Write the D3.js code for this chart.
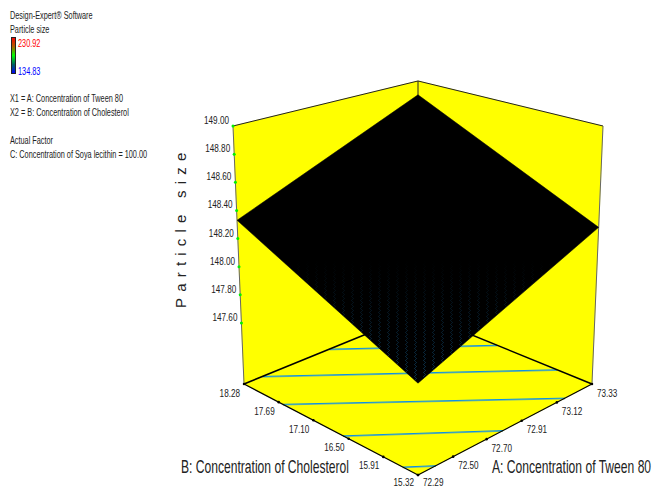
<!DOCTYPE html>
<html>
<head>
<meta charset="utf-8">
<script src="https://cdn.jsdelivr.net/npm/d3@7"></script>
<style>
  html, body { margin: 0; padding: 0; background: #fff; }
  svg { display: block; }
  text { font-family: "Liberation Sans", Arial, sans-serif; fill: #222; }
</style>
</head>
<body>
<script>
var width = 654,
    height = 487;

// axis ticks
var aTicks = [72.29, 72.50, 72.70, 72.91, 73.12, 73.33];
var bTicks = [15.32, 15.91, 16.50, 17.10, 17.69, 18.28];
var zTicks = [147.60, 147.80, 148.00, 148.20, 148.40, 148.60, 148.80, 149.00];

// surface height at the four corners of the A/B floor
var surfaceCorners = [
  { a: 72.29, b: 15.32, z: 147.75 },
  { a: 73.33, b: 15.32, z: 148.28 },
  { a: 73.33, b: 18.28, z: 148.89 },
  { a: 72.29, b: 18.28, z: 148.33 }
];

// contour ends on the floor [A, B, A, B]
var contours = [
  [72.29, 15.55, 72.385, 15.32],
  [72.29, 16.50, 72.764, 15.32],
  [72.29, 17.55, 73.15, 15.32],
  [72.39, 18.28, 73.33, 15.86],
  [72.77, 18.28, 73.33, 16.85]
];

var legendLines = [
  ["Design-Expert\u00ae Software", 19],
  ["Particle size", 33],
  ["X1 = A: Concentration of Tween 80", 102],
  ["X2 = B: Concentration of Cholesterol", 116],
  ["Actual Factor", 144],
  ["C: Concentration of Soya lecithin = 100.00", 158]
];

var colorStops = ["#ff0000", "#b06000", "#00ff00", "#006060", "#0000ff"];

var svg = d3.select('body').append('svg')
    .attr('width', width)
    .attr('height', height);

// scales give 0..1 along each axis, project() does the perspective
var aScale = d3.scaleLinear().domain([72.29, 73.33]).range([0, 1]);
var bScale = d3.scaleLinear().domain([15.32, 18.28]).range([0, 1]);
// height is spaced evenly on the wall, so go through wall pixels first
var wallY = d3.scaleLinear().domain([147.60, 149.00]).range([323, 126]);
var zMin = wallY.invert(384);

function zToT(z) {
  var y = wallY(z);
  return (438.1 - 1.141 * y) / (302.9 - 0.068 * y);
}

function project(a, b, z) {
  var u = aScale(a), v = bScale(b), t = zToT(z);
  var w = 1 + 0.141 * (u + v) - 0.068 * t;
  return [
    418 + 198.5 * (u - v) / w,
    (475 - 36.9 * (u + v) - 302.9 * t) / w
  ];
}

var line = d3.line();
var aMin = aTicks[0], aMax = aTicks[5], bMin = bTicks[0], bMax = bTicks[5];

// front edge ticks are evenly spaced in the original
var aEdge = d3.scaleLinear().domain([aMin, aMax]).range([project(aMin, bMin, zMin), project(aMax, bMin, zMin)]);
var bEdge = d3.scaleLinear().domain([bMin, bMax]).range([project(aMin, bMin, zMin), project(aMin, bMax, zMin)]);

function poly(pts, fill) {
  return svg.append('path')
    .attr('d', line(pts) + 'Z')
    .attr('fill', fill)
    .attr('stroke', fill)
    .attr('stroke-width', 0.5);
}

function edge(p, q, w, color) {
  svg.append('path')
    .attr('d', line([p, q]))
    .attr('fill', 'none')
    .attr('stroke', color)
    .attr('stroke-width', w);
}

// text is condensed in the original, so squeeze it sideways
function label(x, y, str, size, sx, anchor, color) {
  svg.append('text')
    .attr('transform', 'translate(' + x + ',' + y + ') scale(' + sx + ',1)')
    .attr('font-size', size)
    .attr('text-anchor', anchor || 'start')
    .style('fill', color || null)
    .text(str);
}

// walls and floor
var zMax = 149.00;
poly([project(aMin, bMax, zMin), project(aMin, bMax, zMax), project(aMax, bMax, zMax), project(aMax, bMax, zMin)], '#ffff00');
poly([project(aMax, bMin, zMin), project(aMax, bMin, zMax), project(aMax, bMax, zMax), project(aMax, bMax, zMin)], '#ffff00');
poly([project(aMin, bMin, zMin), project(aMax, bMin, zMin), project(aMax, bMax, zMin), project(aMin, bMax, zMin)], '#ffff00');

// contours on the floor
contours.forEach(function(c) {
  var p = project(c[0], c[1], zMin), q = project(c[2], c[3], zMin);
  edge([p[0], p[1] + 0.7], [q[0], q[1] + 0.7], 1, '#6fb59a');
  edge(p, q, 1, '#0a90e8');
});

// box edges
edge(project(aMin, bMax, zMin), project(aMax, bMax, zMin), 1.5, '#000');
edge(project(aMax, bMin, zMin), project(aMax, bMax, zMin), 1.5, '#000');
edge(project(aMin, bMin, zMin), project(aMin, bMax, zMin), 1.2, '#000');
edge(project(aMin, bMin, zMin), project(aMax, bMin, zMin), 1.2, '#000');
edge(project(aMin, bMax, zMax), project(aMax, bMax, zMax), 1, '#222');
edge(project(aMax, bMin, zMax), project(aMax, bMax, zMax), 1, '#222');
edge(project(aMin, bMax, zMin), project(aMin, bMax, zMax), 1, '#666');
edge(project(aMax, bMin, zMin), project(aMax, bMin, zMax), 1, '#666');
edge(project(aMax, bMax, zMin), project(aMax, bMax, zMax), 1, '#222');

// surface
var surfacePts = surfaceCorners.map(function(d) { return project(d.a, d.b, d.z); });
poly(surfacePts, '#000');

// the dense mesh shows as faint blue streaks near the front of the surface
var defs = svg.append('defs');
var speck = defs.append('pattern')
    .attr('id', 'speck').attr('patternUnits', 'userSpaceOnUse')
    .attr('width', 9).attr('height', 4);
speck.append('rect').attr('x', 0).attr('y', 0).attr('width', 1).attr('height', 1).attr('fill', '#12507a');
speck.append('rect').attr('x', 1).attr('y', 1).attr('width', 1).attr('height', 1).attr('fill', '#12507a');
speck.append('rect').attr('x', 2).attr('y', 2).attr('width', 1).attr('height', 1).attr('fill', '#12507a');
speck.append('rect').attr('x', 1).attr('y', 3).attr('width', 1).attr('height', 1).attr('fill', '#12507a');
var fade = defs.append('linearGradient')
    .attr('id', 'fade').attr('gradientUnits', 'userSpaceOnUse')
    .attr('x1', 0).attr('x2', 0).attr('y1', 260).attr('y2', 384);
fade.append('stop').attr('offset', 0).attr('stop-color', '#fff').attr('stop-opacity', 0);
fade.append('stop').attr('offset', 1).attr('stop-color', '#fff').attr('stop-opacity', 0.6);
defs.append('mask').attr('id', 'fadeMask').attr('maskUnits', 'userSpaceOnUse')
    .attr('x', 0).attr('y', 0).attr('width', width).attr('height', height)
    .append('rect').attr('width', width).attr('height', height).attr('fill', 'url(#fade)');
svg.append('path')
    .attr('d', line(surfacePts) + 'Z')
    .attr('fill', 'url(#speck)')
    .attr('mask', 'url(#fadeMask)');

// tick dots and labels
zTicks.forEach(function(z) {
  var p = project(aMin, bMax, z);
  svg.append('circle').attr('cx', p[0]).attr('cy', p[1]).attr('r', 1.5)
    .attr('fill', '#00f000');
  label(p[0] - 4, p[1] - 2, z.toFixed(2), 11.5, 0.71, 'end');
});
bTicks.forEach(function(b, i) {
  var p = bEdge(b);
  svg.append('circle').attr('cx', p[0]).attr('cy', p[1]).attr('r', 1.3).attr('fill', '#000');
  label(p[0] - 4, p[1] + (i == 0 ? 11 : 12.5), b.toFixed(2), 11.5, 0.71, 'end');
});
aTicks.forEach(function(a, i) {
  var p = aEdge(a);
  svg.append('circle').attr('cx', p[0]).attr('cy', p[1]).attr('r', 1.3).attr('fill', '#000');
  label(p[0] + 5, p[1] + (i == 0 ? 11 : 12.5), a.toFixed(2), 11.5, 0.71);
});

// axis titles
label(181, 473, "B: Concentration of Cholesterol", 18, 0.672);
label(492, 473, "A: Concentration of Tween 80", 18, 0.672);
svg.append('text')
  .attr('transform', 'translate(186,308) rotate(-90)')
  .attr('font-size', 15)
  .attr('letter-spacing', 6.2)
  .text("Particle size");

// legend block
legendLines.forEach(function(d) {
  label(10, d[1], d[0], 11, 0.665);
});

var grad = defs.append('linearGradient')
    .attr('id', 'bar').attr('x1', 0).attr('x2', 0).attr('y1', 0).attr('y2', 1);
grad.selectAll('stop').data(colorStops).enter().append('stop')
    .attr('offset', function(d, i) { return i / (colorStops.length - 1); })
    .attr('stop-color', function(d) { return d; });
svg.append('rect')
    .attr('x', 11.5).attr('y', 37.5).attr('width', 4).attr('height', 36)
    .attr('fill', 'url(#bar)').attr('stroke', '#222').attr('stroke-width', 1);
label(18, 47, "230.92", 11, 0.665, 'start', '#ff0000');
label(18, 75, "134.83", 11, 0.665, 'start', '#0000ff');
</script>
</body>
</html>
